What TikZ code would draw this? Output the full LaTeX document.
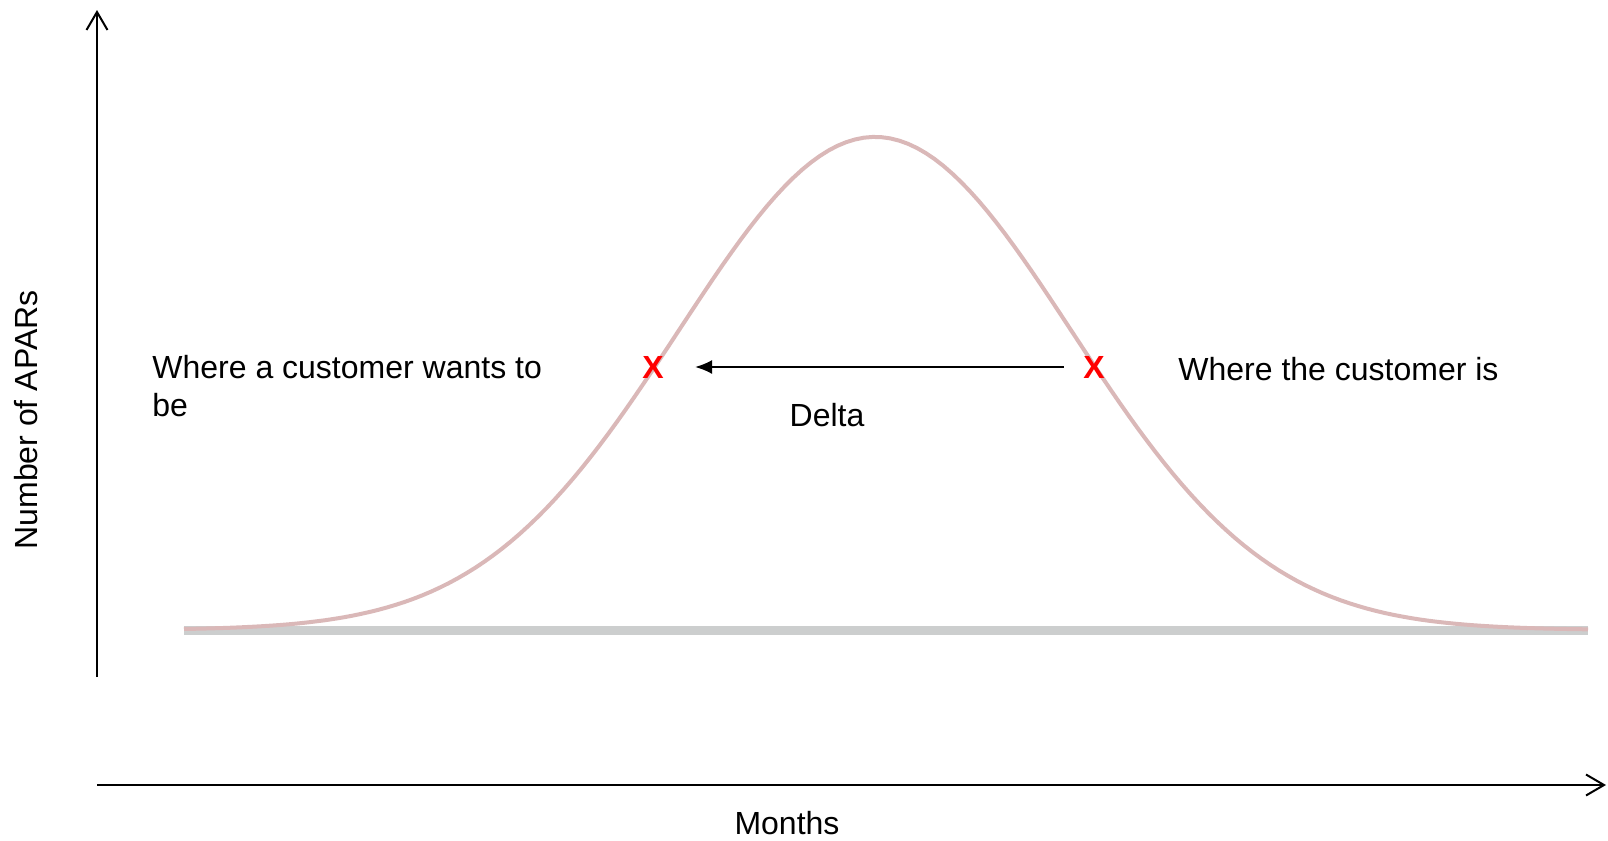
\documentclass[tikz,border=0pt]{standalone}
\usepackage{fontspec}
\setmainfont{Liberation Sans}
\usetikzlibrary{arrows.meta}
\definecolor{bellpink}{RGB}{218,184,184}
\definecolor{basegray}{RGB}{204,206,206}
\tikzset{
  axis/.style={line width=1pt,-{Straight Barb[length=9pt,width=10.5pt]}},
  lbl/.style={font=\fontsize{16}{19.2}\selectfont,inner sep=0pt},
  cross/.style={lbl,text=red,font=\fontsize{16}{19.2}\selectfont\bfseries}
}
\begin{document}
\begin{tikzpicture}[x=0.5pt,y=-0.5pt]
\useasboundingbox (0,0) rectangle (1608,841);
% axes
\coordinate (O1) at (97,677); \coordinate (Ytop) at (97,10);
\coordinate (O2) at (97,785); \coordinate (Xend) at (1606,785);
\draw[axis] (O1) -- (Ytop);
\draw[axis] (O2) -- (Xend);
\node[lbl,rotate=90] (ylab) at (26,420) {Number of APARs};
\node[lbl] (xlab) at (787,823) {Months};
% bell curve
\draw[basegray,line width=4.5pt] (184,630) -- (1588,630);
\draw[bellpink,line width=2pt] plot[domain=184:1588,samples=160] (\x,{630-493*exp(-0.5*((\x-875)/196.5)^2)});
% markers
\node[cross] (want) at (653,367) {X};
\node[cross] (is) at (1094,367) {X};
\draw[line width=1pt,-{Latex[length=8.5pt,width=7pt]},shorten <=9.5pt,shorten >=15.5pt] (is) -- (want);
\node[lbl,anchor=west,align=left] (wantlab) at (152,386) {Where a customer wants to\\be};
\node[lbl,anchor=west] (islab) at (1178,369) {Where the customer is};
\node[lbl] (delta) at (827,415) {Delta};
\end{tikzpicture}
\end{document}
